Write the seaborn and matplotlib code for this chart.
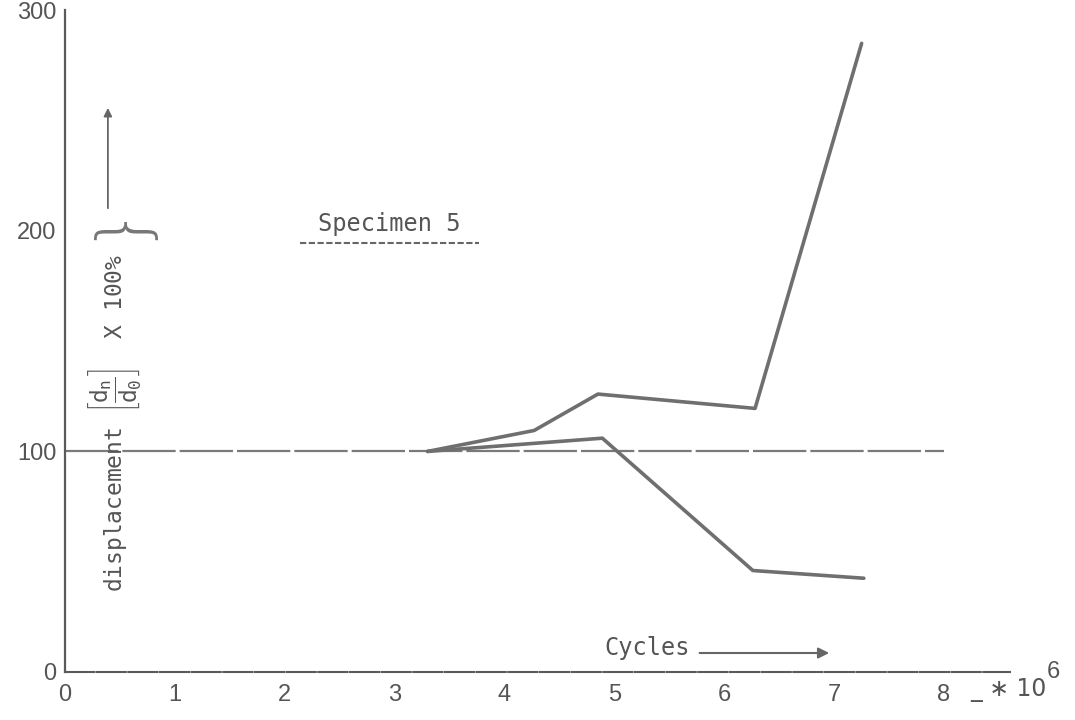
import pandas as pd
import matplotlib.pyplot as plt
import seaborn as sns

# values (cycles in millions, displacement in %)
upper_cycles = [3.3, 4.27, 4.85, 6.28, 7.25]
upper_disp = [100, 109.5, 126, 119.5, 285]
lower_cycles = [3.3, 4.89, 6.26, 7.27]
lower_disp = [100, 106, 46, 42.5]
ref_cycles = [0, 8]
ref_disp = [100, 100]
x_ticks = [0, 1, 2, 3, 4, 5, 6, 7, 8]
y_ticks = [0, 100, 200, 300]

sns.set_style("white")
plt.rcParams['font.family'] = ['Liberation Sans', 'DejaVu Sans']
plt.rcParams['mathtext.fontset'] = 'custom'
plt.rcParams['mathtext.rm'] = 'DejaVu Sans Mono'
plt.rcParams['mathtext.it'] = 'DejaVu Sans Mono'

line_col = '#6f6f6f'
axis_col = '#5a5a5a'
mono = 'DejaVu Sans Mono'

fig = plt.figure(figsize=(10.75, 7.2), dpi=100)
ax = fig.add_axes([0.0605, 0.0667, 0.879, 0.919])

upper = pd.DataFrame({'cycles': upper_cycles, 'disp': upper_disp})
lower = pd.DataFrame({'cycles': lower_cycles, 'disp': lower_disp})
ref = pd.DataFrame({'cycles': ref_cycles, 'disp': ref_disp})

sns.lineplot(data=ref, x='cycles', y='disp', ax=ax, color='#7a7a7a',
             linewidth=1.6, linestyle=(0, (24, 1.8)), sort=False)
sns.lineplot(data=upper, x='cycles', y='disp', ax=ax, color=line_col,
             linewidth=2.6, sort=False)
sns.lineplot(data=lower, x='cycles', y='disp', ax=ax, color=line_col,
             linewidth=2.6, sort=False)

ax.set_xlim(0, 8.6)
ax.set_ylim(0, 300)
ax.set_xticks(x_ticks)
ax.set_yticks(y_ticks)
ax.set_xlabel('')
ax.set_ylabel('')
ax.tick_params(axis='both', direction='in', length=5, width=1.2, color=axis_col,
               labelsize=17, labelcolor='#555555')
ax.tick_params(axis='x', pad=9)
ax.tick_params(axis='y', pad=6)

sns.despine(ax=ax)
ax.spines['left'].set_color(axis_col)
ax.spines['left'].set_linewidth(1.6)
ax.spines['bottom'].set_color(axis_col)
ax.spines['bottom'].set_linewidth(1.5)
ax.spines['bottom'].set_linestyle((0, (14, 1.2)))

# hand-typed labels inside the plot
ax.text(0.45, 113, r'displacement $\left[\dfrac{d_n}{d_0}\right]$  X 100%',
        rotation=90, ha='center', va='center', fontsize=16.5,
        family=mono, color='#555555')
ax.text(0.47, 206, '}', rotation=90, ha='center', va='center', fontsize=50,
        family='DejaVu Sans', fontweight='light', color='#777777')
ax.annotate('', xy=(0.39, 257), xytext=(0.39, 209),
            arrowprops=dict(arrowstyle='-|>', color='#666666', lw=1.3,
                            mutation_scale=12))

ax.text(2.95, 203, 'Specimen 5', ha='center', va='center', fontsize=17,
        family=mono, color='#555555')
ax.plot([2.14, 3.77], [194.5, 194.5], color='#666666', lw=1.5,
        linestyle=(0, (3, 1.2)))

ax.text(5.3, 11, 'Cycles', ha='center', va='center', fontsize=17,
        family=mono, color='#555555')
ax.annotate('', xy=(6.98, 8.6), xytext=(5.75, 8.6),
            arrowprops=dict(arrowstyle='-|>', color='#666666', lw=1.5,
                            mutation_scale=16))

fig.text(0.903, 0.042, '_ \u2217 10', ha='left', va='center', fontsize=17,
         family=['DejaVu Sans'], color='#555555')
fig.text(0.974, 0.066, '6', ha='left', va='center', fontsize=17,
         color='#555555')

fig.savefig('out.png', dpi=100)
